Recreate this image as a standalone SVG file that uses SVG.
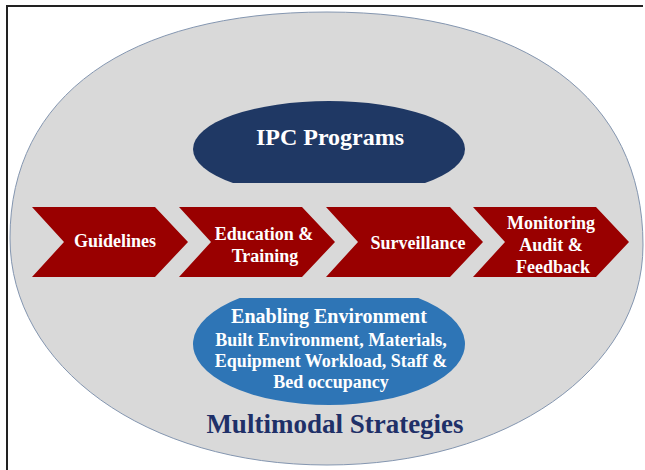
<svg xmlns="http://www.w3.org/2000/svg" width="645" height="470" viewBox="0 0 645 470">
  <style>
    .t { font-family: "Liberation Serif", "Times New Roman", serif; font-weight: bold; text-anchor: middle; }
    .w { fill: #ffffff; }
    .chev { fill: #990000; }
  </style>
  <rect x="0" y="0" width="645" height="470" fill="#ffffff"/>
  <g id="frame">
    <line x1="7" y1="5" x2="7" y2="470" stroke="#222222" stroke-width="2"/>
    <line x1="6" y1="6" x2="643" y2="6" stroke="#222222" stroke-width="2"/>
  </g>
  <g id="multimodal-strategies">
    <path d="M10,238 C10,96 127,12 327,12 C526,12 643,98 643,245 C643,370 507,465 327,465 C146,465 10,367 10,238 Z" fill="#d9d9d9" stroke="#8496b0" stroke-width="1"/>
    <text class="t" x="335" y="433" font-size="27" fill="#1f3068">Multimodal Strategies</text>
  </g>
  <g id="ipc-programs">
    <path d="M233,183 A136,48 0 1 1 425,183 Z" fill="#1f3864"/>
    <text class="t w" x="330" y="145" font-size="24">IPC Programs</text>
  </g>
  <g id="guidelines">
    <polygon class="chev" points="32,207 155,207 188,242 155,277 32,277 64,242"/>
    <text class="t w" x="115" y="247" font-size="18">Guidelines</text>
  </g>
  <g id="education-training">
    <polygon class="chev" points="179,207 302,207 335,242 302,277 179,277 211,242"/>
    <text class="t w" font-size="18"><tspan x="264" y="240">Education &amp;</tspan><tspan x="265" y="262">Training</tspan></text>
  </g>
  <g id="surveillance">
    <polygon class="chev" points="326,207 450,207 483,242 450,277 326,277 358,242"/>
    <text class="t w" x="418" y="249" font-size="18">Surveillance</text>
  </g>
  <g id="monitoring">
    <polygon class="chev" points="473,207 596,207 629,242 596,277 473,277 505,242"/>
    <text class="t w" font-size="18"><tspan x="551" y="229">Monitoring</tspan><tspan x="551" y="251">Audit &amp;</tspan><tspan x="553" y="273">Feedback</tspan></text>
  </g>
  <g id="enabling-environment">
    <path d="M239.7,298 A136,61 0 1 0 418.3,298 Z" fill="#2e75b6"/>
    <text class="t w" x="329" y="323" font-size="20">Enabling Environment</text>
    <text class="t w" font-size="18"><tspan x="331" y="346">Built Environment, Materials,</tspan><tspan x="331" y="367">Equipment Workload, Staff &amp;</tspan><tspan x="331" y="388">Bed occupancy</tspan></text>
  </g>
  <g id="connectors"/>
</svg>
